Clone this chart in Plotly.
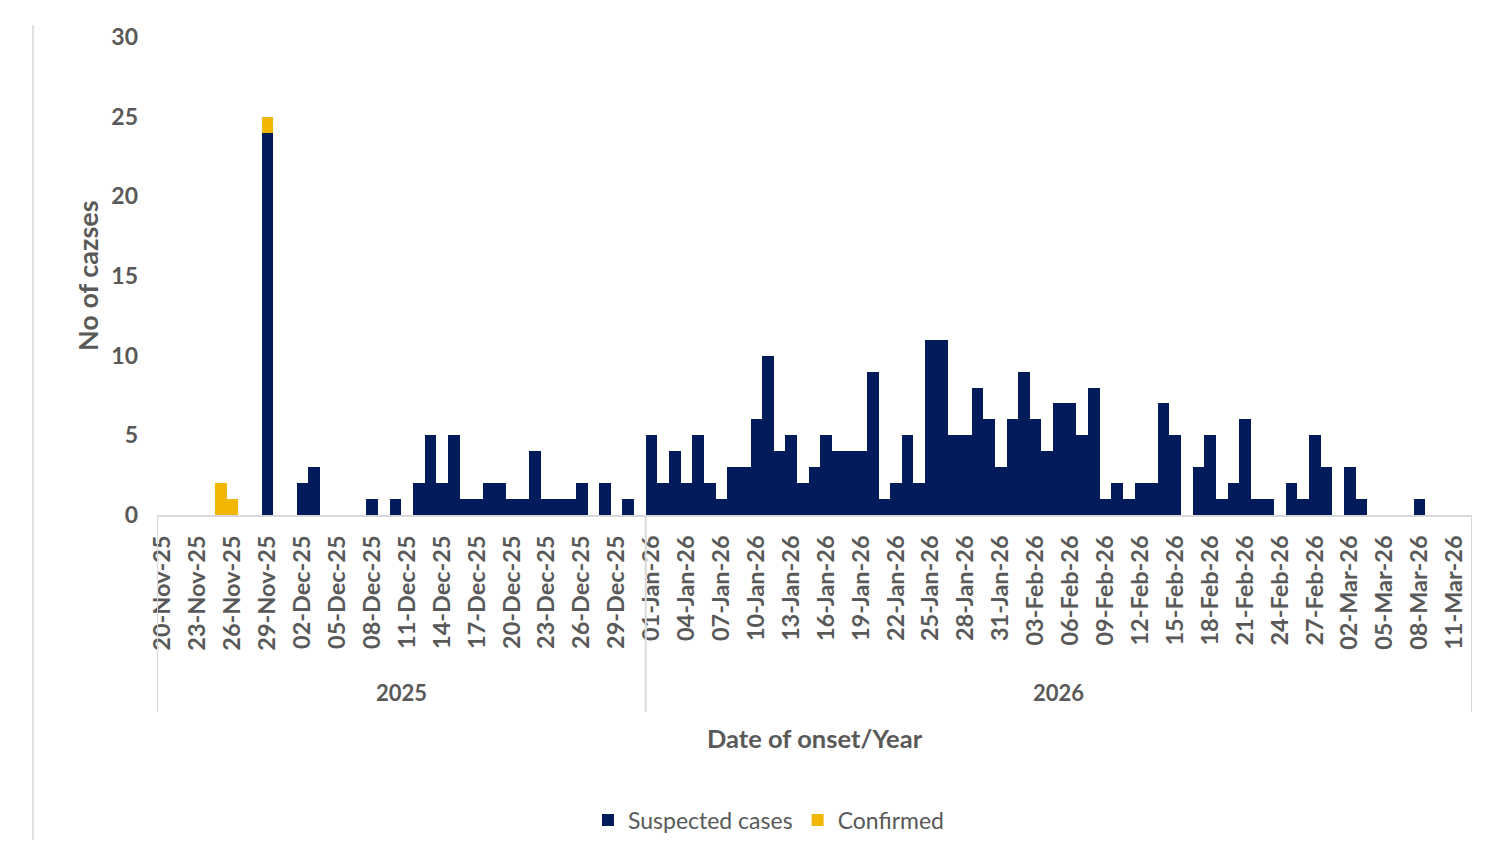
import pandas as pd
import plotly.graph_objects as go

# ---- data ----
dates = pd.date_range("2025-11-20", "2026-03-12", freq="D")
categories = [d.strftime("%d-%b-%y") for d in dates]

suspected = [
    # Nov 20-30
    0, 0, 0, 0, 0, 0, 0, 0, 0, 24, 0,
    # Dec 1-31
    0, 2, 3, 0, 0, 0, 0, 1, 0, 1, 0, 2, 5, 2, 5, 1, 1, 2, 2, 1, 1, 4, 1, 1, 1, 2, 0, 2, 0, 1, 0,
    # Jan 1-31
    5, 2, 4, 2, 5, 2, 1, 3, 3, 6, 10, 4, 5, 2, 3, 5, 4, 4, 4, 9, 1, 2, 5, 2, 11, 11, 5, 5, 8, 6, 3,
    # Feb 1-28
    6, 9, 6, 4, 7, 7, 5, 8, 1, 2, 1, 2, 2, 7, 5, 0, 3, 5, 1, 2, 6, 1, 1, 0, 2, 1, 5, 3,
    # Mar 1-12
    0, 3, 1, 0, 0, 0, 0, 1, 0, 0, 0, 0,
]
confirmed = [
    0, 0, 0, 0, 0, 2, 1, 0, 0, 1, 0,
] + [0] * (len(categories) - 11)

years = ["2025", "2026"]
year_first = ["20-Nov-25", "01-Jan-26"]
year_last = ["31-Dec-25", "12-Mar-26"]

tick_labels = categories[::3]

NAVY = "#021b5b"
GOLD = "#f2b705"
GREY = "#595959"
FONT = "Lato"

fig = go.Figure()
fig.add_trace(go.Bar(x=categories, y=suspected, name="Suspected cases",
                     marker=dict(color=NAVY, line=dict(width=0))))
fig.add_trace(go.Bar(x=categories, y=confirmed, name="Confirmed",
                     marker=dict(color=GOLD, line=dict(width=0))))

n = len(categories)
fig.update_layout(
    width=1498, height=854,
    barmode="stack", bargap=0,
    paper_bgcolor="white", plot_bgcolor="white",
    margin=dict(l=149, r=34, t=29, b=347, autoexpand=False),
    font=dict(family=FONT, color=GREY),
    showlegend=True,
    legend=dict(orientation="h", x=0.465, xanchor="center", y=-0.638, yanchor="middle",
                font=dict(size=23, color=GREY), traceorder="normal",
                itemwidth=30),
    xaxis=dict(type="category", categoryorder="array", categoryarray=categories,
               range=[-0.5, n - 0.5], tickmode="array", tickvals=tick_labels,
               ticktext=tick_labels, tickangle=-90,
               tickfont=dict(size=23.5, color=GREY, weight="bold"),
               ticklabelstandoff=9,
               showline=True, linecolor="#d9d9d9", linewidth=2, ticks="",
               showgrid=False, zeroline=False, fixedrange=True),
    yaxis=dict(range=[0, 30], tickmode="linear", tick0=0, dtick=5,
               tickfont=dict(size=23, color=GREY, weight="bold"), showgrid=False,
               zeroline=False, showline=False, ticklabelstandoff=18, fixedrange=True),
)

# y axis title
fig.add_annotation(text="No of cazses", xref="paper", yref="paper", x=-0.0532, y=0.5,
                   xanchor="center", yanchor="middle",
                   textangle=-90, showarrow=False,
                   font=dict(size=27, color=GREY, family=FONT, weight="bold"))
# x axis title
fig.add_annotation(text="Date of onset/Year", xref="paper", yref="paper", x=0.5, y=-0.4665,
                   xanchor="center", yanchor="middle",
                   showarrow=False, font=dict(size=25.5, color=GREY, family=FONT, weight="bold"))

# year group labels and separators
for yr, a, b in zip(years, year_first, year_last):
    ia, ib = categories.index(a), categories.index(b)
    fig.add_annotation(text=yr, xref="x", yref="paper", x=(ia + ib) / 2, y=-0.372,
                       xanchor="center", yanchor="middle",
                       showarrow=False, font=dict(size=22, color=GREY, family=FONT, weight="bold"))
seps = [-0.5] + [categories.index(b) + 0.5 for b in year_last]
for s in seps:
    fig.add_shape(type="line", xref="x", yref="paper", x0=s, x1=s, y0=0, y1=-0.412,
                  line=dict(color="#d9d9d9", width=2))

# chart border at left
fig.add_shape(type="line", xref="paper", yref="paper", x0=-0.0943, x1=-0.0943,
              y0=1.025, y1=-0.68, line=dict(color="#e3e3e3", width=2))

fig.write_html("out.html")
